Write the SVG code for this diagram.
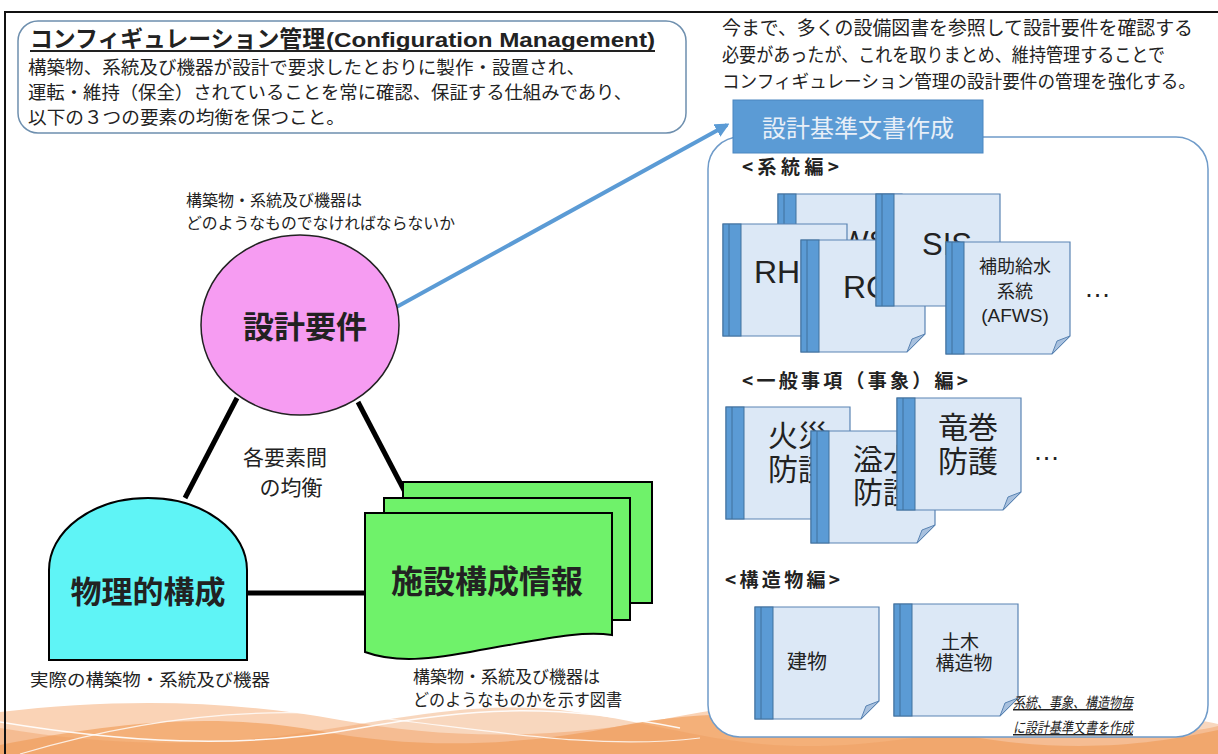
<svg xmlns="http://www.w3.org/2000/svg" xmlns:xlink="http://www.w3.org/1999/xlink" width="1218" height="754" viewBox="0 0 1218 754">
<style>
.jp{font-family:"Noto Sans CJK JP","Liberation Sans",sans-serif;fill:#222}
.b{font-weight:bold}
.lat{font-family:"Liberation Sans","Noto Sans CJK JP",sans-serif;fill:#222}
.dpage{fill:#dce8f6;stroke:#5a84b3;stroke-width:1.2}
.dfold{fill:#a9c1de;stroke:#5a84b3;stroke-width:1}
.dspine{fill:#5b9bd5;stroke:#41719c;stroke-width:1}
.dspline{stroke:#41719c;stroke-width:1}
.tri{stroke:#000;stroke-width:5;fill:none}
.green{fill:#6ff26a;stroke:#000;stroke-width:2}
</style>
<defs>
<g id="doc">
<path d="M0,0H124V94L106,112H0Z" class="dpage"/>
<path d="M124,94L111,99L106,112Z" class="dfold"/>
<rect x="0" y="0" width="18" height="112" class="dspine"/>
<line x1="6" y1="0" x2="6" y2="112" class="dspline"/>
</g>
<marker id="arr" viewBox="0 0 10 10" refX="8" refY="5" markerWidth="3.6" markerHeight="3.6" orient="auto">
<path d="M0,0L10,5L0,10Z" fill="#5b9bd5"/>
</marker>
</defs>

<rect x="0" y="0" width="1218" height="754" fill="#fff"/>

<g id="waves">
<path d="M0,712 C120,698 230,700 340,720 C450,740 560,740 680,716 C800,692 920,698 1040,720 C1120,734 1180,736 1218,726 V754 H0Z" fill="#fad3b6"/>
<path d="M0,745 C100,726 200,710 320,731 C420,750 520,746 620,726 C740,702 860,718 980,738 C1080,754 1160,743 1218,730 V754 H0Z" fill="#f2a96f" opacity="0.85"/>
<path d="M0,728 C90,743 180,748 280,736 C380,724 460,700 560,710 C660,722 720,748 820,746 C920,744 1000,718 1100,714 C1160,712 1200,720 1218,724 V754 H0Z" fill="#ee9a5c" opacity="0.4"/>
<path d="M0,722 C120,742 240,750 360,728 C480,706 560,704 680,728" fill="none" stroke="#fff" stroke-width="1.5" opacity="0.9"/>
<path d="M20,754 C140,718 260,704 380,718 C500,732 600,750 700,738" fill="none" stroke="#fff" stroke-width="1.2" opacity="0.8"/>
</g>

<path d="M5,754V12H1218" fill="none" stroke="#111" stroke-width="2"/>

<g id="intro">
<rect x="18" y="21" width="668" height="112" rx="20" fill="#fff" stroke="#6e8fae" stroke-width="1.5"/>
<text x="30" y="47" class="jp b" font-size="23" textLength="295" lengthAdjust="spacingAndGlyphs">コンフィギュレーション管理</text>
<text x="326" y="47" class="lat b" font-size="20" textLength="329" lengthAdjust="spacingAndGlyphs">(Configuration Management)</text>
<line x1="30" y1="51" x2="655" y2="51" stroke="#222" stroke-width="2"/>
<text x="28" y="74" class="jp" font-size="18" textLength="557" lengthAdjust="spacingAndGlyphs">構築物、系統及び機器が設計で要求したとおりに製作・設置され、</text>
<text x="28" y="99" class="jp" font-size="18" textLength="604" lengthAdjust="spacingAndGlyphs">運転・維持（保全）されていることを常に確認、保証する仕組みであり、</text>
<text x="28" y="124" class="jp" font-size="18" textLength="317" lengthAdjust="spacingAndGlyphs">以下の３つの要素の均衡を保つこと。</text>
</g>

<g id="note">
<text x="722" y="35" class="jp" font-size="19" textLength="471" lengthAdjust="spacingAndGlyphs">今まで、多くの設備図書を参照して設計要件を確認する</text>
<text x="722" y="62" class="jp" font-size="19" textLength="443" lengthAdjust="spacingAndGlyphs">必要があったが、これを取りまとめ、維持管理することで</text>
<text x="722" y="88" class="jp" font-size="18" textLength="474" lengthAdjust="spacingAndGlyphs">コンフィギュレーション管理の設計要件の管理を強化する。</text>
</g>

<g id="connectors">
<line x1="237" y1="398" x2="185" y2="498" class="tri"/>
<line x1="358" y1="402" x2="405" y2="492" class="tri"/>
<line x1="247" y1="593" x2="366" y2="593" class="tri"/>
<line x1="382" y1="315" x2="727" y2="125" stroke="#5b9bd5" stroke-width="4" marker-end="url(#arr)"/>
</g>

<g id="req">
<text class="jp" font-size="16"><tspan x="186" y="206">構築物・系統及び機器は</tspan><tspan x="186" y="229" textLength="269" lengthAdjust="spacingAndGlyphs">どのようなものでなければならないか</tspan></text>
<ellipse cx="300" cy="325" rx="99" ry="90" fill="#f69cf2" stroke="#222" stroke-width="1.5"/>
<text x="305" y="338" class="jp b" font-size="31" text-anchor="middle">設計要件</text>
</g>

<g id="balance">
<text class="jp" font-size="21" text-anchor="middle"><tspan x="285" y="465">各要素間</tspan><tspan x="291" y="495">の均衡</tspan></text>
</g>

<g id="physical">
<path d="M49,660V570A99,72 0 0 1 247,570V660Z" fill="#5ff4f6" stroke="#000" stroke-width="2"/>
<text x="148" y="603" class="jp b" font-size="31" text-anchor="middle">物理的構成</text>
<text x="30" y="686" class="jp" font-size="17" textLength="240" lengthAdjust="spacingAndGlyphs">実際の構築物・系統及び機器</text>
</g>

<g id="facility">
<rect x="403" y="482" width="249" height="121" class="green"/>
<rect x="384" y="498" width="246" height="122" class="green"/>
<path d="M365,513H612V635C580,630 540,640 480,650C430,660 395,663 365,652Z" class="green"/>
<text x="487" y="593" class="jp b" font-size="32" text-anchor="middle">施設構成情報</text>
<text class="jp" font-size="17"><tspan x="413" y="683">構築物・系統及び機器は</tspan><tspan x="413" y="706" textLength="209" lengthAdjust="spacingAndGlyphs">どのようなものかを示す図書</tspan></text>
</g>

<g id="standards">
<rect x="708" y="137" width="500" height="600" rx="32" fill="#fff" stroke="#6f9bc9" stroke-width="1.5"/>
<rect x="733" y="100" width="250" height="53" fill="#5b9bd5" stroke="#4a86c0" stroke-width="1"/>
<text x="858" y="137" class="jp" font-size="24" text-anchor="middle" style="fill:#e8eff8">設計基準文書作成</text>
<text x="742" y="174" class="jp b" font-size="19" textLength="97" lengthAdjust="spacing">&lt;系統編&gt;</text>
<text x="742" y="388" class="jp b" font-size="19" textLength="226" lengthAdjust="spacing">&lt;一般事項（事象）編&gt;</text>
<text x="725" y="587" class="jp b" font-size="19" textLength="115" lengthAdjust="spacing">&lt;構造物編&gt;</text>
</g>

<g id="doc-ccws"><use href="#doc" x="778" y="194"/><text x="797" y="251" class="lat" font-size="30">CCWS</text></g>
<g id="doc-rhr"><use href="#doc" x="723" y="224"/><text x="754" y="283" class="lat" font-size="32">RHR</text></g>
<g id="doc-rcs"><use href="#doc" x="801" y="240"/><text x="843" y="298" class="lat" font-size="32">RCS</text></g>
<g id="doc-sis"><use href="#doc" x="876" y="194"/><text x="922" y="255" class="lat" font-size="31">SIS</text></g>
<g id="doc-afws"><use href="#doc" x="946" y="242"/>
<text class="jp" font-size="18" text-anchor="middle"><tspan x="1015" y="273">補助給水</tspan><tspan x="1015" y="298">系統</tspan><tspan x="1015" y="322" class="lat" font-size="19" style="font-family:'Liberation Sans',sans-serif">(AFWS)</tspan></text></g>
<text x="1084" y="297" class="lat" font-size="27">…</text>

<g id="doc-fire"><use href="#doc" x="726" y="407"/>
<text class="jp" font-size="30"><tspan x="768" y="446">火災</tspan><tspan x="768" y="480">防護</tspan></text></g>
<g id="doc-flood"><use href="#doc" x="811" y="431"/>
<text class="jp" font-size="30"><tspan x="853" y="470">溢水</tspan><tspan x="853" y="503">防護</tspan></text></g>
<g id="doc-tornado"><use href="#doc" x="897" y="398"/>
<text class="jp" font-size="30"><tspan x="938" y="438">竜巻</tspan><tspan x="938" y="472">防護</tspan></text></g>
<text x="1033" y="460" class="lat" font-size="27">…</text>

<g id="doc-building"><use href="#doc" x="755" y="607"/>
<text x="787" y="669" class="jp" font-size="20">建物</text></g>
<g id="doc-civil"><use href="#doc" x="894" y="604"/>
<text class="jp" font-size="19" text-anchor="middle"><tspan x="960" y="649">土木</tspan><tspan x="964" y="670">構造物</tspan></text></g>

<g id="footnote">
<text class="jp" font-size="15" font-style="italic" text-decoration="underline"><tspan x="1013" y="708" textLength="120" lengthAdjust="spacingAndGlyphs">系統、事象、構造物毎</tspan><tspan x="1013" y="733" textLength="120" lengthAdjust="spacingAndGlyphs">に設計基準文書を作成</tspan></text>
</g>
</svg>
